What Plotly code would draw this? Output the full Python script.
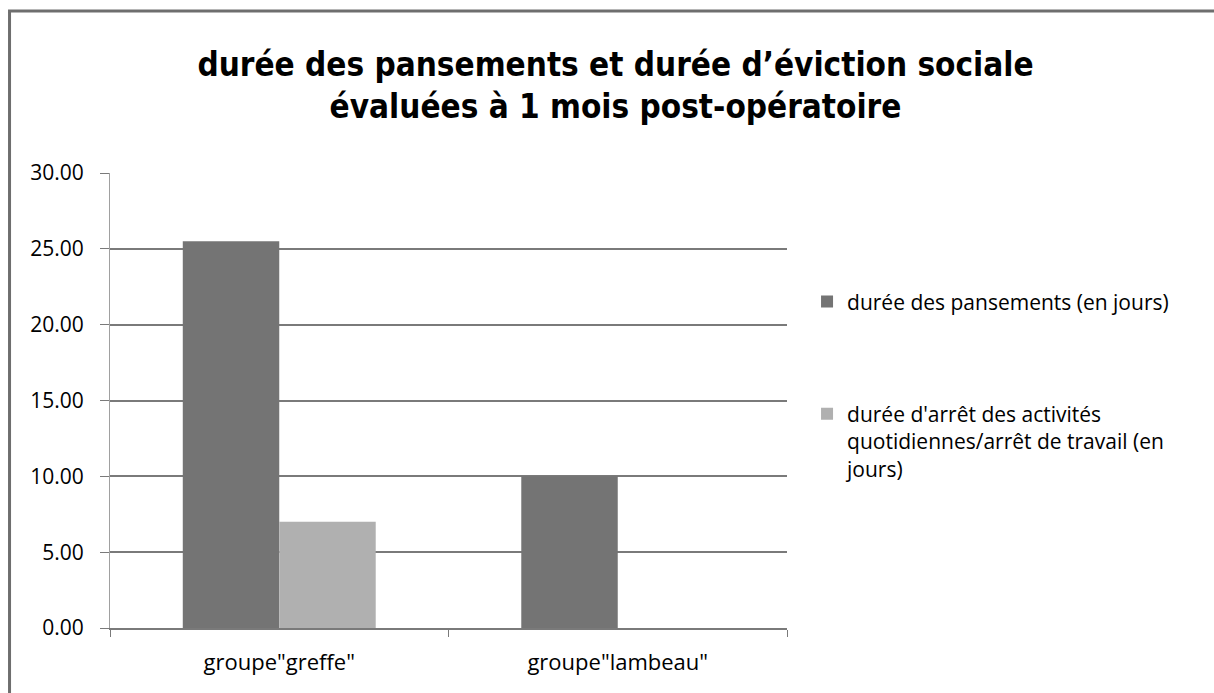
import plotly.graph_objects as go

# Groupes comparés et durées moyennes (en jours)
categories = ['groupe"greffe"', 'groupe"lambeau"']
duree_pansements = [25.5, 10.0]
duree_arret = [7.0, 0.0]

series_names = [
    "durée des pansements (en jours)",
    "durée d'arrêt des activités<br>quotidiennes/arrêt de travail (en<br>jours)",
]
y_ticks = [0, 5, 10, 15, 20, 25, 30]
y_tick_labels = ["0.00", "5.00", "10.00", "15.00", "20.00", "25.00", "30.00"]

FONT = "Open Sans"
TITLE_FONT = "DejaVu Sans Condensed, Roboto"
DARK = "#747474"
LIGHT = "#b0b0b0"
GRID = "#7a7a7a"

fig = go.Figure()
fig.add_trace(go.Bar(
    x=categories, y=duree_pansements, name=series_names[0],
    marker=dict(color=DARK, line=dict(width=0)), legendgroup="a",
))
fig.add_trace(go.Bar(
    x=categories, y=duree_arret, name=series_names[1],
    marker=dict(color=LIGHT, line=dict(width=0)), legendgroup="b",
))

fig.update_layout(
    width=1214, height=693,
    margin=dict(l=110, r=427, t=173, b=65),
    paper_bgcolor="white", plot_bgcolor="white",
    barmode="group", bargap=0.43, bargroupgap=0,
    font=dict(family=FONT, color="black"),
    title=dict(
        text="durée des pansements et durée d’éviction sociale<br>évaluées à 1 mois post-opératoire",
        x=0.507, xanchor="center", y=0.891, yanchor="middle",
        font=dict(family=TITLE_FONT, size=33, color="black", weight="bold"),
    ),
    showlegend=True,
    legend=dict(
        x=1.0296, xanchor="left", y=0.762, yanchor="top",
        font=dict(family=FONT, size=21, color="black"),
        tracegroupgap=82, itemwidth=30, traceorder="grouped",
        valign="top", bgcolor="rgba(0,0,0,0)",
    ),
    xaxis=dict(
        showgrid=False, showline=True, linecolor=GRID, linewidth=1.5,
        ticks="outside", tickson="boundaries", ticklen=7, tickcolor=GRID,
        tickfont=dict(family=FONT, size=22, color="black"),
        ticklabelstandoff=14,
    ),
    yaxis=dict(
        range=[0, 30], tickvals=y_ticks, ticktext=y_tick_labels,
        showgrid=True, gridcolor=GRID, gridwidth=1.5,
        showline=True, linecolor="#a0a0a0", linewidth=1,
        ticks="outside", ticklen=9, tickcolor=GRID,
        tickfont=dict(family=FONT, size=21, color="black"),
        ticklabelstandoff=12, zeroline=False,
    ),
)

# Cadre du graphique
fig.add_shape(
    type="rect", xref="paper", yref="paper",
    x0=-0.1484, x1=1.7, y0=-0.2, y1=1.356,
    line=dict(color="#6e6e6e", width=3), fillcolor="rgba(0,0,0,0)", layer="above",
)

fig.write_html("out.html")
